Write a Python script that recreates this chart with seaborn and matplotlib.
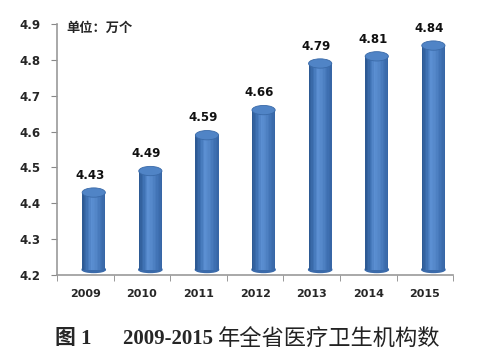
import matplotlib
matplotlib.use("Agg")
import matplotlib.pyplot as plt
import seaborn as sns
import pandas as pd
from matplotlib.patches import Ellipse
from matplotlib.colors import LinearSegmentedColormap

# chart data
years = ["2009", "2010", "2011", "2012", "2013", "2014", "2015"]
counts = [4.43, 4.49, 4.59, 4.66, 4.79, 4.81, 4.84]
y_ticks = [4.2, 4.3, 4.4, 4.5, 4.6, 4.7, 4.8, 4.9]
unit_label = "单位：万个"
caption_head = "图 1      2009-2015"
caption_tail = "年全省医疗卫生机构数"

df = pd.DataFrame({"year": years, "count": counts})

sns.set_style("white")
plt.rcParams["font.family"] = ["DejaVu Sans", "Noto Sans CJK SC"]

fig = plt.figure(figsize=(4.91, 3.59), dpi=100)
ax = fig.add_axes([0.116, 0.234, 0.807, 0.699])

base = 4.215
df["height"] = df["count"] - base
sns.barplot(x="year", y="height", data=df, color="#4a7ebb", width=0.41,
            bottom=base, saturation=1, ax=ax, edgecolor="none")

# cylinder shading across the bar width
shade = LinearSegmentedColormap.from_list(
    "cyl", ["#2d5a94", "#3f72b4", "#5b8fd2", "#5386c8", "#4274b6", "#3766a6"])
n_strips = 16
for bar in ax.patches[:len(years)]:
    bar.set_x(bar.get_x() + 0.15)  # perspective offset, as in the original
    x0, w = bar.get_x(), bar.get_width()
    y0, h = bar.get_y(), bar.get_height()
    for k in range(n_strips):
        ax.bar(x0 + w * k / n_strips, h, width=w / n_strips * 1.05, bottom=y0,
               align="edge", color=shade(k / (n_strips - 1)), linewidth=0,
               zorder=2)
    ax.add_patch(Ellipse((x0 + w / 2, y0), w, 0.016,
                         color="#3a6aaa", zorder=1.9))
    ax.add_patch(Ellipse((x0 + w / 2, y0 + h), w, 0.026,
                         facecolor="#5084c6", edgecolor="#3a6aa8",
                         linewidth=0.6, zorder=3))

for i, v in enumerate(counts):
    ax.text(i + 0.08, v + 0.03, f"{v:.2f}", ha="center", va="bottom",
            fontsize=8.5, fontweight="bold", color="#111111")

ax.set_ylim(4.2, 4.9)
ax.set_xlim(-0.5, len(years) - 0.5)
ax.set_yticks(y_ticks)
ax.set_yticklabels([f"{t:.1f}" for t in y_ticks], fontsize=8.5,
                   fontweight="bold")
ax.set_xticks(range(len(years)))
ax.set_xticklabels(years, fontsize=8, fontweight="bold")
ax.tick_params(axis="x", length=0, pad=10)
ax.tick_params(axis="y", length=4, direction="out", color="#888888",
               left=True, pad=8)
# category boundary ticks on the x axis
ax.set_xticks([i - 0.5 for i in range(len(years) + 1)], minor=True)
ax.tick_params(axis="x", which="minor", length=4, direction="out",
               color="#888888", bottom=True)
ax.set_xlabel("")
ax.set_ylabel("")
sns.despine(ax=ax)
for s in ["left", "bottom"]:
    ax.spines[s].set_color("#999999")
    ax.spines[s].set_linewidth(1.2)

ax.text(0.025, 0.985, unit_label, transform=ax.transAxes, ha="left",
        va="center", fontsize=9.5, fontweight="bold",
        family=["Noto Sans CJK SC", "DejaVu Sans"])

fig.text(0.112, 0.055, caption_head, ha="left", va="center", fontsize=15,
         fontweight="bold", family=["Liberation Serif", "Noto Sans CJK SC"])
fig.text(0.443, 0.055, caption_tail, ha="left", va="center", fontsize=16,
         color="#222222", family=["Noto Sans CJK SC", "DejaVu Sans"])

fig.savefig("out.png", dpi=100)
